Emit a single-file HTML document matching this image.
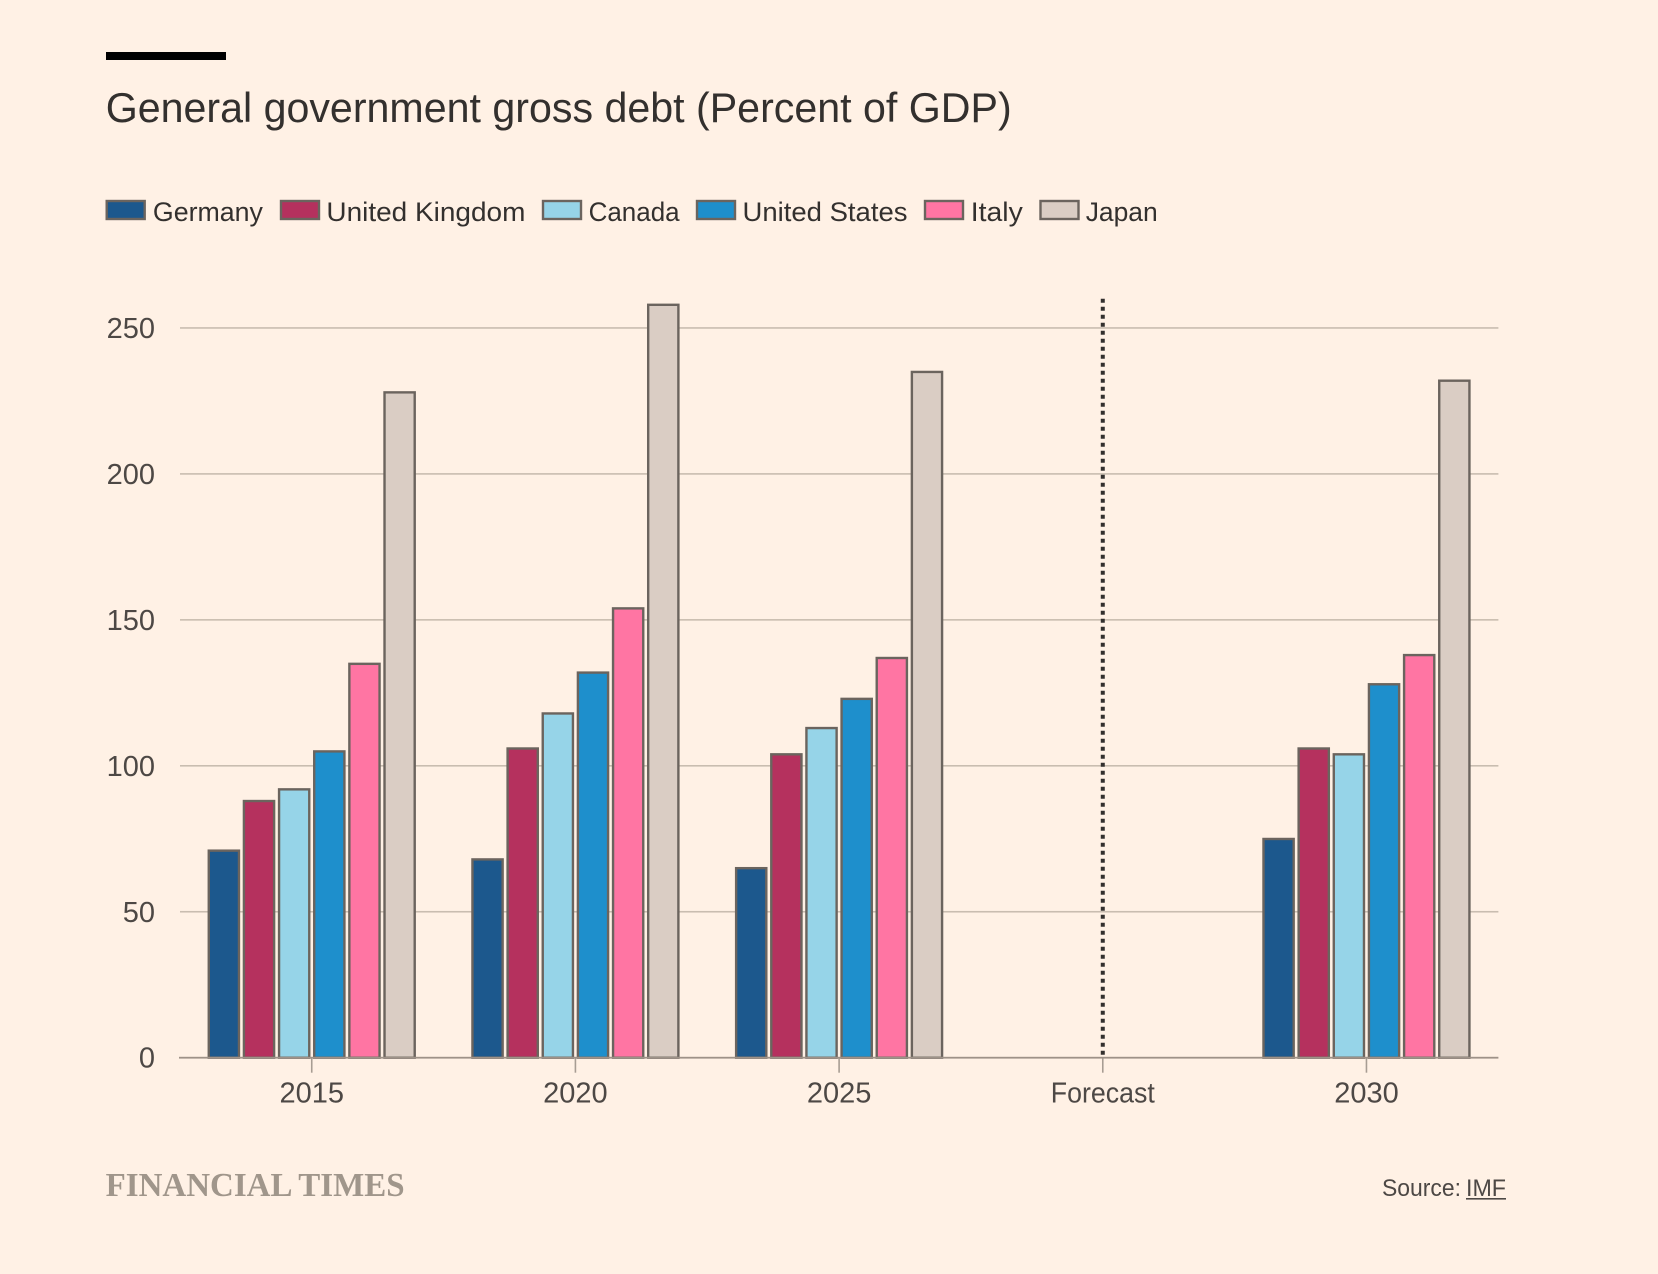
<!DOCTYPE html>
<html lang="en">
<head>
<meta charset="utf-8">
<title>General government gross debt</title>
<style>
html,body{margin:0;padding:0;background:#fff1e5;width:1658px;height:1274px;overflow:hidden}
svg{display:block;font-family:"Liberation Sans",sans-serif}
</style>
</head>
<body>
<svg id="chart" width="1658" height="1274" viewBox="0 0 1658 1274" xmlns="http://www.w3.org/2000/svg">
<rect x="0" y="0" width="1658" height="1274" fill="#fff1e5"/>
<rect x="106" y="52" width="120" height="8" fill="#000"/>
<text x="105.7" y="122" font-size="42" fill="#33302e" textLength="906" lengthAdjust="spacingAndGlyphs">General government gross debt (Percent of GDP)</text>

<g font-size="27" fill="#33302e" stroke-width="2.4">
<g><rect x="106.7" y="201" width="38" height="18" fill="#1c588d" stroke="#6b645e"/><text x="152.9" y="221" textLength="110" lengthAdjust="spacingAndGlyphs">Germany</text></g>
<g><rect x="281" y="201" width="38" height="18" fill="#b5315e" stroke="#6b645e"/><text x="326.4" y="221" textLength="199" lengthAdjust="spacingAndGlyphs">United Kingdom</text></g>
<g><rect x="543" y="201" width="38" height="18" fill="#96d4e8" stroke="#6b645e"/><text x="588.6" y="221" textLength="91" lengthAdjust="spacingAndGlyphs">Canada</text></g>
<g><rect x="697" y="201" width="38" height="18" fill="#1e8fcc" stroke="#6b645e"/><text x="742.5" y="221" textLength="165" lengthAdjust="spacingAndGlyphs">United States</text></g>
<g><rect x="925" y="201" width="38" height="18" fill="#ff75a3" stroke="#6b645e"/><text x="970.8" y="221" textLength="52" lengthAdjust="spacingAndGlyphs">Italy</text></g>
<g><rect x="1040.5" y="201" width="38" height="18" fill="#dacdc4" stroke="#6b645e"/><text x="1085.7" y="221" textLength="72" lengthAdjust="spacingAndGlyphs">Japan</text></g>
</g>

<g id="plot"></g>

<text x="105.6" y="1196" font-family="'Liberation Serif',serif" font-weight="bold" font-size="33.5" fill="#a0968b" textLength="299" lengthAdjust="spacingAndGlyphs">FINANCIAL TIMES</text>
<text x="1382" y="1196" font-size="24" fill="#4d4845" textLength="79" lengthAdjust="spacingAndGlyphs">Source:</text>
<text x="1466" y="1196" font-size="24" fill="#4d4845" textLength="40" lengthAdjust="spacingAndGlyphs">IMF</text>
<rect x="1466" y="1198" width="40" height="1.6" fill="#4d4845"/>
</svg>
<script>
const categories = ['2015', '2020', '2025', 'Forecast', '2030'];
const seriesNames = ['Germany', 'United Kingdom', 'Canada', 'United States', 'Italy', 'Japan'];
const germany = [71, 68, 65, null, 75];
const unitedKingdom = [88, 106, 104, null, 106];
const canada = [92, 118, 113, null, 104];
const unitedStates = [105, 132, 123, null, 128];
const italy = [135, 154, 137, null, 138];
const japan = [228, 258, 235, null, 232];
const yTicks = [0, 50, 100, 150, 200, 250];
const forecastCategory = 'Forecast';

const allSeries = [germany, unitedKingdom, canada, unitedStates, italy, japan];
const seriesColors = ['#1c588d', '#b5315e', '#96d4e8', '#1e8fcc', '#ff75a3', '#dacdc4'];
const NS = 'http://www.w3.org/2000/svg';
const plot = document.getElementById('plot');
const plotLeft = 180, plotRight = 1498.4, baseY = 1057.7, pxPerUnit = 2.919;
const bandStep = (plotRight - plotLeft) / categories.length;
const barStep = 35.15, barOuter = 32.6, barStroke = 2.4;
function yScale(v) { return baseY - v * pxPerUnit; }
function xBand(i) { return plotLeft + bandStep * (i + 0.5) - 0.1; }
function barX(i, s) { return xBand(i) + (s - (allSeries.length - 1) / 2) * barStep; }
function slug(t) { return t.toLowerCase().replace(/\s+/g, '-'); }
function make(tag, attrs, text) {
  const el = document.createElementNS(NS, tag);
  for (const k in attrs) el.setAttribute(k, attrs[k]);
  if (text !== undefined) el.textContent = text;
  plot.appendChild(el);
  return el;
}

yTicks.forEach(function (t) {
  if (t !== 0) {
    const grid = make('rect', { x: plotLeft, y: yScale(t) - 0.8, width: plotRight - plotLeft, height: 1.6, fill: '#c9bdb0' });
    
    
  }
  const label = make('text', { x: 155, y: yScale(t) + 10, 'text-anchor': 'end', 'font-size': 29, fill: '#4d4845' }, String(t));
  
  
});

categories.forEach(function (c, i) {
  const tick = make('rect', { x: xBand(i) - 0.8, y: baseY, width: 1.6, height: 15, fill: '#a79d93' });
  
  
  const label = make('text', { x: xBand(i), y: 1102.7, 'text-anchor': 'middle', 'font-size': 29, fill: '#4d4845' }, c);
  
  
  if (c === forecastCategory) {
    label.setAttribute('textLength', '104');
    label.setAttribute('lengthAdjust', 'spacingAndGlyphs');
    const divider = make('line', { x1: xBand(i), x2: xBand(i), y1: 298.7, y2: baseY, stroke: '#33302e', 'stroke-width': 4, 'stroke-dasharray': '4 4' });
    
    
  }
});

allSeries.forEach(function (values, s) {
  values.forEach(function (v, i) {
    if (v === null) return;
    const w = barOuter - barStroke;
    const top = yScale(v) + 0.2;
    const bar = make('rect', {
      x: barX(i, s) - w / 2, y: top, width: w, height: baseY - top,
      fill: seriesColors[s], stroke: '#6b645e', 'stroke-width': barStroke
    });
    
    
  });
});

const axis = make('rect', { x: plotLeft - 1, y: baseY - 0.9, width: plotRight - plotLeft + 1, height: 1.8, fill: '#9e9288' });


</script>
</body>
</html>
